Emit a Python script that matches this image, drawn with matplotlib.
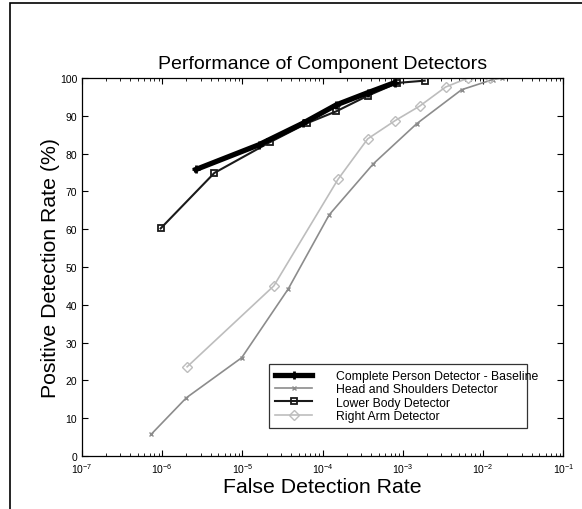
import matplotlib.pyplot as plt
import numpy as np
from matplotlib.patches import Rectangle

plt.rcParams['font.family'] = ['Liberation Sans', 'DejaVu Sans']

# log10 of false detection rate, detection rate in %
person_x = [-5.58, -4.80, -4.25, -3.83, -3.44, -3.10]
person_y = [75.8, 82.3, 88.0, 92.9, 96.1, 98.8]

head_x = [-6.14, -5.70, -5.01, -4.43, -3.92, -3.37, -2.83, -2.27, -1.88, -1.77]
head_y = [5.7, 15.4, 26.0, 44.2, 63.8, 77.3, 87.9, 96.9, 99.6, 100.0]

lower_x = [-6.02, -5.35, -4.66, -4.20, -3.83, -3.44, -3.07, -2.73]
lower_y = [60.2, 74.9, 83.0, 88.0, 91.2, 95.3, 98.7, 99.3]

arm_x = [-5.69, -4.61, -3.81, -3.44, -3.10, -2.79, -2.47, -2.19, -1.91]
arm_y = [23.6, 45.0, 73.2, 83.9, 88.7, 92.6, 97.6, 100.0, 100.0]

xticks = [1e-7, 1e-6, 1e-5, 1e-4, 1e-3, 1e-2, 1e-1]
yticks = list(range(0, 101, 10))

fig = plt.figure(figsize=(5.82, 5.10), dpi=100)
ax = fig.add_axes([82/582, 1 - 457/510, 481.5/582, 378/510])

ax.plot(10**np.array(person_x), person_y, '-', color='black', lw=3.8,
        marker='+', ms=6, mew=2, label='Complete Person Detector - Baseline', zorder=5)
ax.plot(10**np.array(head_x), head_y, '-', color='#8c8c8c', lw=1.2,
        marker='x', ms=3.5, mew=1, label='Head and Shoulders Detector')
ax.plot(10**np.array(lower_x), lower_y, '-', color='#1a1a1a', lw=1.5,
        marker='s', ms=5, mfc='none', mew=1.3, label='Lower Body Detector', zorder=4)
ax.plot(10**np.array(arm_x), arm_y, '-', color='#bdbdbd', lw=1.2,
        marker='D', ms=5, mfc='none', mew=1, label='Right Arm Detector')

ax.set_xscale('log')
ax.set_xlim(1e-7, 1e-1)
ax.set_ylim(0, 100)
ax.set_xticks(xticks)
ax.set_yticks(yticks)
ax.tick_params(which='both', direction='in', top=True, right=True, labelsize=7.5)
ax.tick_params(which='major', length=4)
ax.tick_params(which='minor', length=2)
for s in ax.spines.values():
    s.set_linewidth(0.9)

ax.set_title('Performance of Component Detectors', fontsize=14, pad=7)
ax.set_xlabel('False Detection Rate', fontsize=15.3, labelpad=2)
ax.set_ylabel('Positive Detection Rate (%)', fontsize=15.3, labelpad=0)

leg = ax.legend(loc='lower left', bbox_to_anchor=(0.376, 0.058, 0.561, 0.172),
                mode='expand', fontsize=8.8, frameon=True, fancybox=False,
                borderpad=0.5, labelspacing=0.1, handlelength=3.0, handletextpad=2.0)
leg.get_frame().set_edgecolor('black')
leg.get_frame().set_linewidth(0.9)

# outer frame of the scanned figure
fig.add_artist(Rectangle((10/582, -0.1), 1.2, 1 - 4/510 + 0.1, transform=fig.transFigure,
                         fill=False, edgecolor='black', lw=1.2))

fig.savefig('out.png', dpi=100)
